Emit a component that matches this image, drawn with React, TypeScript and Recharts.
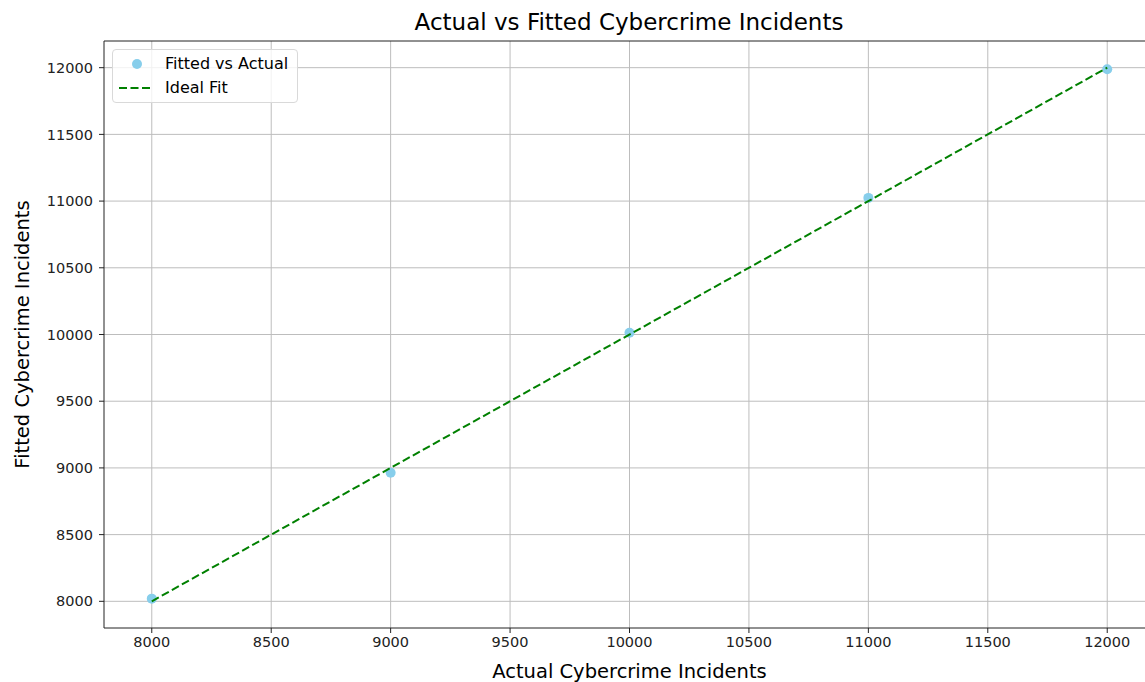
import { ScatterChart, Scatter, XAxis, YAxis, CartesianGrid, ReferenceLine, Label } from "recharts";

const actualIncidents = [8000, 9000, 10000, 11000, 12000];
const fittedIncidents = [8020, 8964, 10013, 11024, 11988];
const idealFitX = [8000, 12000];
const axisTicks = [8000, 8500, 9000, 9500, 10000, 10500, 11000, 11500, 12000];

const FONT = "'DejaVu Sans', sans-serif";

export default function App() {
  const points = actualIncidents.map((x, i) => ({ x, y: fittedIncidents[i] }));
  const ideal = idealFitX.map((x) => ({ x, y: x }));

  return (
    <div style={{ position: "absolute", left: 0, top: 0, width: 1145, height: 682, overflow: "hidden", background: "#fff", fontFamily: FONT }}>
      <div style={{ position: "absolute", left: 104, width: 1050, top: 8, textAlign: "center", fontSize: 23, lineHeight: "28px", color: "#000" }}>
        Actual vs Fitted Cybercrime Incidents
      </div>
      <ScatterChart width={1175} height={682} margin={{ top: 41, right: 20, bottom: 0, left: 0 }}>
        <CartesianGrid stroke="#bdbdbd" strokeWidth={1} horizontalValues={axisTicks} verticalValues={axisTicks} />
        <XAxis
          type="number"
          dataKey="x"
          domain={[7800, 12200]}
          ticks={axisTicks}
          allowDataOverflow
          height={54}
          tickSize={5}
          tickMargin={4}
          stroke="#222"
          tick={{ fontSize: 14.5, fill: "#222", fontFamily: FONT }}
        >
          <Label value="Actual Cybercrime Incidents" position="insideBottom" offset={4} style={{ fontSize: 19.5, fill: "#000", fontFamily: FONT }} />
        </XAxis>
        <YAxis
          type="number"
          dataKey="y"
          domain={[7800, 12200]}
          ticks={axisTicks}
          allowDataOverflow
          width={104}
          tickSize={5}
          tickMargin={6}
          stroke="#222"
          tick={{ fontSize: 14.5, fill: "#222", fontFamily: FONT }}
        >
          <Label value="Fitted Cybercrime Incidents" angle={-90} position="insideLeft" offset={22} style={{ textAnchor: "middle", fontSize: 19.5, fill: "#000", fontFamily: FONT }} />
        </YAxis>
        <ReferenceLine y={12200} stroke="#222" strokeWidth={1} ifOverflow="visible" />
        <ReferenceLine x={12200} stroke="#222" strokeWidth={1} ifOverflow="visible" />
        <Scatter name="Fitted vs Actual" data={points} fill="#87CEEB" isAnimationActive={false} shape={(p: any) => <circle cx={p.cx} cy={p.cy} r={5} fill="#87CEEB" />} />
        <Scatter
          name="Ideal Fit"
          data={ideal}
          isAnimationActive={false}
          line={{ stroke: "#008000", strokeWidth: 2, strokeDasharray: "8 3.5" }}
          shape={() => <g />}
          legendType="none"
        />
      </ScatterChart>
      <div style={{ position: "absolute", left: 112, top: 49, width: 184, height: 52, border: "1px solid #d9d9d9", borderRadius: 4, background: "rgba(255,255,255,0.8)", fontSize: 16, lineHeight: "20px", color: "#000" }}>
        <div style={{ position: "absolute", left: 19, top: 9, width: 10, height: 10, borderRadius: 5, background: "#87CEEB" }} />
        <div style={{ position: "absolute", left: 52, top: 4, whiteSpace: "nowrap" }}>Fitted vs Actual</div>
        <svg style={{ position: "absolute", left: 5, top: 36 }} width={36} height={4}>
          <line x1={1} y1={2} x2={35} y2={2} stroke="#008000" strokeWidth={2} strokeDasharray="8 3.5" />
        </svg>
        <div style={{ position: "absolute", left: 52, top: 28, whiteSpace: "nowrap" }}>Ideal Fit</div>
      </div>
    </div>
  );
}
